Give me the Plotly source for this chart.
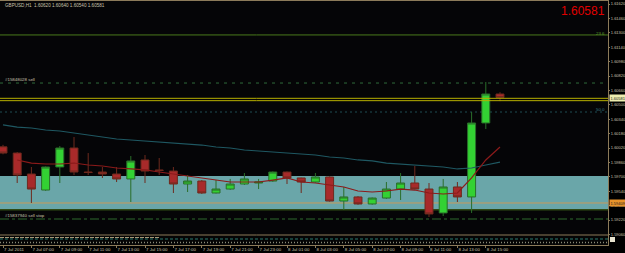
import plotly.graph_objects as go

# ---------------- data ----------------
bars = list(range(36))  # H1 bars, 7 Jul 2011 05:00 ... 8 Jul 2011 16:00

opens = [1.60033, 1.59964, 1.59731, 1.59553, 1.59809, 1.60020, 1.59753, 1.59753, 1.59731, 1.59676,
         1.59887, 1.59776, 1.59764, 1.59620, 1.59653, 1.59520, 1.59564, 1.59620, 1.59631, 1.59653,
         1.59753, 1.59687, 1.59642, 1.59698, 1.59431, 1.59476, 1.59398, 1.59464, 1.59564, 1.59631,
         1.59564, 1.59298, 1.59587, 1.59476, 1.60298, 1.60620]
highs = [1.60055, 1.59975, 1.59809, 1.59815, 1.60042, 1.60142, 1.59964, 1.59809, 1.59809, 1.59931,
         1.59942, 1.59909, 1.59809, 1.59720, 1.59664, 1.59664, 1.59676, 1.59742, 1.59676, 1.59760,
         1.59760, 1.59690, 1.59742, 1.59705, 1.59587, 1.59485, 1.59470, 1.59642, 1.59742, 1.59820,
         1.59631, 1.59676, 1.59642, 1.60420, 1.60753, 1.60640]
lows = [1.59950, 1.59631, 1.59409, 1.59545, 1.59631, 1.59720, 1.59720, 1.59687, 1.59642, 1.59420,
        1.59631, 1.59720, 1.59520, 1.59531, 1.59510, 1.59515, 1.59555, 1.59610, 1.59564, 1.59645,
        1.59620, 1.59520, 1.59635, 1.59425, 1.59331, 1.59390, 1.59390, 1.59455, 1.59442, 1.59560,
        1.59253, 1.59264, 1.59420, 1.59298, 1.60231, 1.60540]
closes = [1.59964, 1.59720, 1.59564, 1.59809, 1.60020, 1.59753, 1.59748, 1.59731, 1.59676, 1.59876,
          1.59764, 1.59770, 1.59620, 1.59653, 1.59520, 1.59564, 1.59620, 1.59676, 1.59642, 1.59753,
          1.59687, 1.59642, 1.59698, 1.59431, 1.59476, 1.59398, 1.59464, 1.59564, 1.59631, 1.59564,
          1.59287, 1.59587, 1.59476, 1.60298, 1.60620, 1.60581]

ma_slow = [1.60276, 1.60253, 1.60242, 1.60220, 1.60209, 1.60187, 1.60164, 1.60142, 1.60120, 1.60109,
           1.60098, 1.60087, 1.60076, 1.60064, 1.60053, 1.60031, 1.60020, 1.59998, 1.59987, 1.59976,
           1.59964, 1.59953, 1.59942, 1.59920, 1.59909, 1.59887, 1.59876, 1.59853, 1.59842, 1.59831,
           1.59820, 1.59809, 1.59787, 1.59798, 1.59831, 1.59864]
ma_fast = [None, 1.59887, 1.59853, 1.59842, 1.59842, 1.59853, 1.59831, 1.59820, 1.59798, 1.59787,
           1.59776, 1.59753, 1.59731, 1.59709, 1.59687, 1.59664, 1.59642, 1.59642, 1.59642, 1.59664,
           1.59687, 1.59642, 1.59631, 1.59609, 1.59587, 1.59542, 1.59531, 1.59542, 1.59564, 1.59553,
           1.59520, 1.59509, 1.59520, 1.59687, 1.59887, 1.60031]

time_ticks = [0, 2, 4, 6, 8, 10, 12, 14, 16, 18, 20, 22, 24, 26, 28, 30, 32, 34]
time_labels = ["7 Jul 2011", "7 Jul 07:00", "7 Jul 09:00", "7 Jul 11:00", "7 Jul 13:00",
               "7 Jul 15:00", "7 Jul 17:00", "7 Jul 19:00", "7 Jul 21:00", "7 Jul 23:00",
               "8 Jul 01:00", "8 Jul 03:00", "8 Jul 05:00", "8 Jul 07:00", "8 Jul 09:00",
               "8 Jul 11:00", "8 Jul 13:00", "8 Jul 15:00"]
price_ticks = [1.61620, 1.61460, 1.61300, 1.61140, 1.60980, 1.60820, 1.60660, 1.60500, 1.60340,
               1.60180, 1.60020, 1.59860, 1.59700, 1.59540, 1.59380, 1.59220, 1.59060]

zone_low, zone_high = 1.59342, 1.59709
fib_236 = 1.61276
fib_500 = 1.60420
sell_order = 1.60742
sell_stop = 1.59231
orange_level = 1.59409
yellow_levels = [1.60572, 1.60546]
last_price = 1.60581
title_text = "GBPUSD,H1  1.60620 1.60640 1.60540 1.60581"

# ---------------- figure ----------------
W, H = 625, 253
PL, PR, PT, PB = 0, 17, 1, 8
plot_w = W - PL - PR
plot_h = H - PT - PB

def px_x(px):
    return px / plot_w

def px_y(py):
    return (H - PB - py) / plot_h

FONT = "Liberation Sans"
AXC = "#8c7b5a"
TXT = "#c8c2ac"
AXFS = 4.0

fig = go.Figure()

fig.add_trace(go.Scatter(x=bars, y=ma_slow, mode="lines",
                         line=dict(color="#1f5862", width=1.2), hoverinfo="skip"))
fig.add_trace(go.Scatter(x=bars, y=ma_fast, mode="lines",
                         line=dict(color="#8b1a1a", width=1.2), hoverinfo="skip"))
fig.add_trace(go.Candlestick(
    x=bars, open=opens, high=highs, low=lows, close=closes,
    increasing=dict(line=dict(color="#2a6e2a", width=1), fillcolor="#33d133"),
    decreasing=dict(line=dict(color="#6e2a1e", width=1), fillcolor="#a82a2a"),
    whiskerwidth=0))

shapes = []
# support zone
shapes.append(dict(type="rect", xref="paper", x0=0, x1=1, yref="y", y0=zone_low, y1=zone_high,
                   fillcolor="#6aa6a9", line_width=0, layer="below"))
shapes.append(dict(type="line", xref="paper", x0=0, x1=1, yref="y", y0=zone_low - 0.00008,
                   y1=zone_low - 0.00008, line=dict(color="#2f4a14", width=1.5), layer="below"))
# horizontal levels
shapes.append(dict(type="line", xref="paper", x0=0, x1=1, yref="y", y0=fib_236, y1=fib_236,
                   line=dict(color="#4a7a1c", width=1), layer="below"))
shapes.append(dict(type="line", xref="paper", x0=0, x1=1, yref="y", y0=fib_500, y1=fib_500,
                   line=dict(color="#1f4c52", width=1, dash="2px,3px"), layer="below"))
shapes.append(dict(type="line", xref="paper", x0=0, x1=1, yref="y", y0=sell_order, y1=sell_order,
                   line=dict(color="#2f6b3a", width=1, dash="3px,5px"), layer="below"))
shapes.append(dict(type="line", xref="paper", x0=0, x1=1, yref="y", y0=sell_stop, y1=sell_stop,
                   line=dict(color="#2f6b2f", width=1, dash="dashdot"), layer="below"))
shapes.append(dict(type="line", xref="paper", x0=0, x1=1, yref="y", y0=orange_level, y1=orange_level,
                   line=dict(color="#c89b5a", width=1), layer="below"))
for lv in yellow_levels:
    shapes.append(dict(type="line", xref="paper", x0=0, x1=1, yref="y", y0=lv, y1=lv,
                       line=dict(color="#b8b000", width=1), layer="above"))
# bottom indicator strip
shapes.append(dict(type="rect", xref="paper", x0=0, x1=1, yref="paper", y0=0, y1=px_y(235),
                   fillcolor="#050505", line_width=0, layer="above"))
shapes.append(dict(type="line", xref="paper", x0=0, x1=1, yref="paper", y0=px_y(235), y1=px_y(235),
                   line=dict(color=AXC, width=1), layer="above"))
shapes.append(dict(type="line", xref="paper", x0=0, x1=1, yref="paper", y0=px_y(239), y1=px_y(239),
                   line=dict(color="#2a7a70", width=1, dash="3px,2px"), layer="above"))
shapes.append(dict(type="line", xref="paper", x0=0, x1=px_x(160), yref="paper", y0=px_y(237.5), y1=px_y(237.5),
                   line=dict(color="#a89878", width=1.2, dash="4px,1px"), layer="above"))
shapes.append(dict(type="line", xref="paper", x0=0, x1=1, yref="paper", y0=px_y(242.5), y1=px_y(242.5),
                   line=dict(color="#8a8a78", width=1.5, dash="1px,2px"), layer="above"))
shapes.append(dict(type="rect", xref="paper", x0=px_x(610), x1=px_x(615), yref="paper",
                   y0=px_y(242), y1=px_y(237), fillcolor="#e8e4d0", line_width=0, layer="above"))

ann = []
ann.append(dict(text=title_text, xref="paper", yref="paper", x=px_x(3), y=px_y(5),
                xanchor="left", yanchor="middle", showarrow=False,
                font=dict(family=FONT, size=4.6, color=TXT)))
ann.append(dict(text=f"{last_price:.5f}", xref="paper", yref="paper", x=px_x(607), y=px_y(2),
                xanchor="right", yanchor="top", showarrow=False,
                font=dict(family=FONT, size=12, color="#e00000")))
ann.append(dict(text="#15848028 sell", xref="paper", yref="paper", x=px_x(3), y=px_y(79),
                xanchor="left", yanchor="middle", showarrow=False,
                font=dict(family=FONT, size=4.4, color=TXT)))
ann.append(dict(text="#15837940 sell stop", xref="paper", yref="paper", x=px_x(3), y=px_y(215),
                xanchor="left", yanchor="middle", showarrow=False,
                font=dict(family=FONT, size=4.4, color=TXT)))
ann.append(dict(text="23.6", xref="paper", yref="paper", x=px_x(607), y=px_y(33),
                xanchor="right", yanchor="middle", showarrow=False,
                font=dict(family=FONT, size=4.4, color="#5a9a2a")))
ann.append(dict(text="50.0", xref="paper", yref="paper", x=px_x(607), y=px_y(109),
                xanchor="right", yanchor="middle", showarrow=False,
                font=dict(family=FONT, size=4.4, color="#3a7a80")))
ann.append(dict(text=f"{last_price:.5f}", xref="paper", yref="y", x=1, y=last_price,
                xanchor="left", yanchor="middle", xshift=1, showarrow=False, borderpad=0.5,
                bgcolor="#eeeeb0", font=dict(family=FONT, size=AXFS, color="#202020")))
ann.append(dict(text=f"{orange_level:.5f}", xref="paper", yref="y", x=1, y=orange_level,
                xanchor="left", yanchor="middle", xshift=1, showarrow=False, borderpad=0.5,
                bgcolor="#e8922a", font=dict(family=FONT, size=AXFS, color="#202020")))

x_lo = (0 - 3) / 14.2
x_hi = (plot_w - 3) / 14.2
y_top = 1.61620 + (4 - 1) / 9000
y_bot = 1.61620 - (245 - 4) / 9000

fig.update_layout(
    width=W, height=H, margin=dict(l=PL, r=PR, t=PT, b=PB, pad=0, autoexpand=False),
    paper_bgcolor="#000000", plot_bgcolor="#050507", boxgap=0.2,
    showlegend=False, shapes=shapes, annotations=ann,
    xaxis=dict(range=[x_lo, x_hi], showgrid=False, zeroline=False, showline=True, mirror=True,
               linecolor=AXC, linewidth=1, ticks="outside", ticklen=2, tickcolor=AXC,
               tickvals=time_ticks, ticktext=time_labels, ticklabelposition="outside right",
               tickangle=0, automargin=False,
               tickfont=dict(family=FONT, size=4.4, color=TXT),
               rangeslider=dict(visible=False), fixedrange=True),
    yaxis=dict(range=[y_bot, y_top], side="right", showgrid=False, zeroline=False, showline=True,
               mirror=True, linecolor=AXC, linewidth=1, ticks="outside", ticklen=1, tickcolor=AXC,
               tickvals=price_ticks, ticktext=[f"{v:.5f}" for v in price_ticks], automargin=False,
               tickfont=dict(family=FONT, size=AXFS, color=TXT), fixedrange=True),
)

fig.write_html("out.html")
